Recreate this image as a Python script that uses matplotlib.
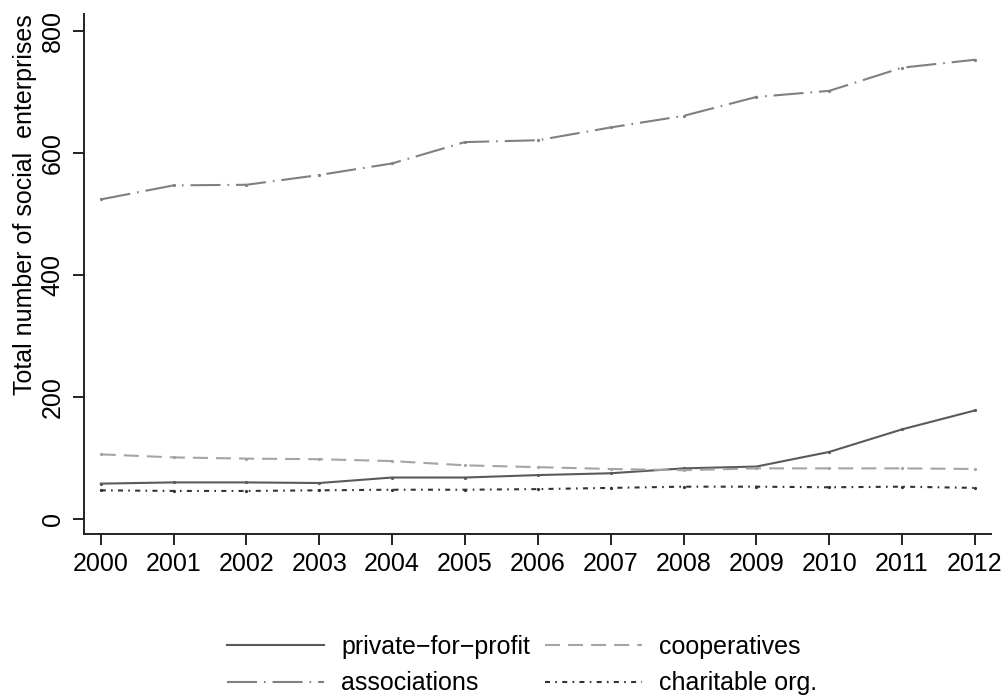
import matplotlib
matplotlib.use("Agg")
import matplotlib.pyplot as plt

plt.rcParams['font.family'] = ['Liberation Sans', 'DejaVu Sans']
plt.rcParams['lines.scale_dashes'] = False

years = list(range(2000, 2013))
private_for_profit = [58, 60, 60, 59, 68, 68, 72, 75, 83, 86, 110, 147, 178]
cooperatives = [106, 101, 99, 98, 95, 88, 85, 82, 80, 83, 83, 83, 82]
associations = [524, 547, 548, 564, 583, 618, 621, 642, 661, 692, 702, 740, 753]
charitable_org = [47, 46, 46, 47, 48, 48, 49, 51, 53, 53, 52, 53, 51]

labels = ["private\u2212for\u2212profit", "cooperatives", "associations", "charitable org."]
yticks = [0, 200, 400, 600, 800]

series = [private_for_profit, cooperatives, associations, charitable_org]
colors = ["#5a5a5a", "#a4a4a4", "#808080", "#333333"]
styles = ["-",
          (0, (10.8, 5.8)),
          (0, (21.6, 5.0, 1.2, 5.0)),
          (0, (3.6, 3.8, 1.2, 3.8))]

fig = plt.figure(figsize=(10.08, 6.98), dpi=100)
ax = fig.add_axes([84 / 1008, 1 - 534 / 698, (991 - 84) / 1008, (534 - 14) / 698])

lw = 1.5
for vals, c, s, lab in zip(series, colors, styles, labels):
    ax.plot(years, vals, color=c, lw=lw, ls=s, marker="o", ms=1.3, label=lab)

ax.set_xlim(1999.77, 2012.22)
ax.set_ylim(-24.6, 828)
ax.set_xticks(years)
ax.set_xticklabels([str(y) for y in years])
ax.set_yticks(yticks)
ax.set_yticklabels([str(v) for v in yticks], rotation=90, va="center")

for side in ("top", "right"):
    ax.spines[side].set_visible(False)
for side in ("left", "bottom"):
    ax.spines[side].set_linewidth(1.4)
    ax.spines[side].set_color("#222222")

ax.tick_params(axis="both", length=8, width=1.4, color="#222222",
               labelsize=18, labelcolor="black")
ax.tick_params(axis="x", pad=5)
ax.tick_params(axis="y", pad=6)

fig.text(25 / 1008, 1 - 205 / 698, "Total number of social  enterprises",
         rotation=90, ha="center", va="center", fontsize=18)

# Legend keys without markers, filled row by row (matplotlib fills columns first)
order = [0, 2, 1, 3]
keys = [plt.Line2D([], [], color=colors[i], lw=lw, ls=styles[i]) for i in order]
fig.legend(keys, [labels[i] for i in order], ncol=2, loc="center",
           bbox_to_anchor=(522 / 1008, 1 - 665 / 698),
           frameon=False, fontsize=18, handlelength=3.9,
           handletextpad=0.68, columnspacing=0.6, labelspacing=0.5)

fig.savefig("out.png", dpi=100)
